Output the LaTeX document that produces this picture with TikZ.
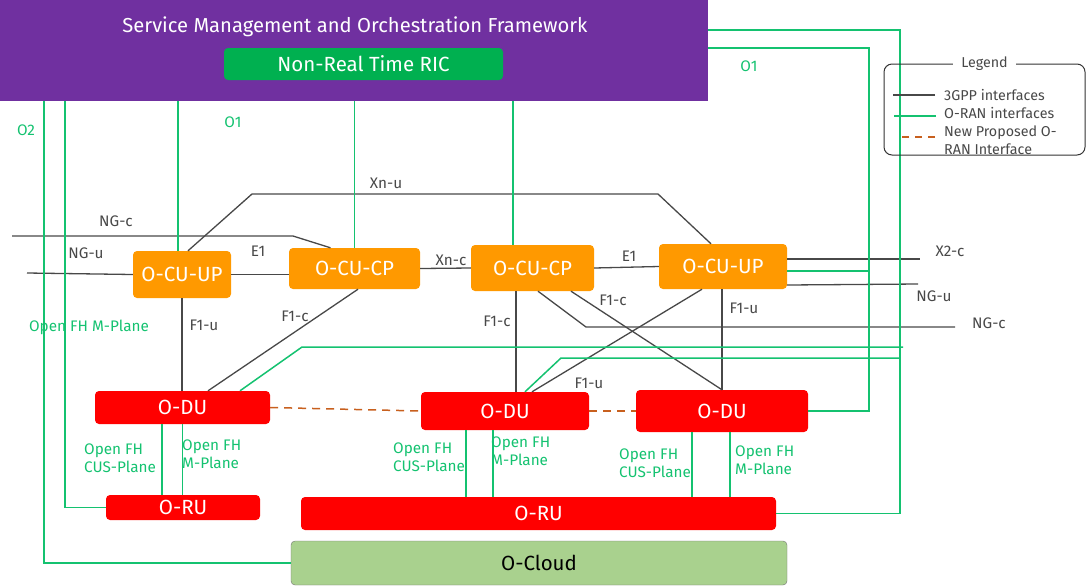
\documentclass[tikz,border=0pt]{standalone}
\usepackage{fontspec}
\setmainfont{Fira Sans}
\usetikzlibrary{shapes,arrows,positioning}
\definecolor{smopurple}{HTML}{7030A0}
\definecolor{ricgreen}{HTML}{00B050}
\definecolor{cuorange}{HTML}{FF9900}
\definecolor{dured}{HTML}{FF0000}
\definecolor{cloudgreen}{HTML}{A9D18E}
\definecolor{linegray}{HTML}{484848}
\definecolor{orangreen}{HTML}{14C270}
\definecolor{proporange}{HTML}{C8601E}

\begin{document}
\begin{tikzpicture}[x=1pt, y=-1pt,
  box/.style={rounded corners=4pt, text=white, font=\fontsize{20.5}{24}\selectfont, inner sep=0pt},
  cu/.style={box, fill=cuorange},
  du/.style={box, fill=dured},
  gpp/.style={draw=linegray, line width=1.3pt},
  oran/.style={draw=orangreen, line width=1.5pt},
  propline/.style={draw=proporange, line width=1.5pt, dash pattern=on 8pt off 6pt},
  lbl/.style={text=linegray, font=\fontsize{15.3}{18}\selectfont, inner sep=0pt},
  glbl/.style={lbl, text=orangreen, align=left},
  leg/.style={lbl, font=\fontsize{14.3}{16}\selectfont}]
  \useasboundingbox (0,0) rectangle (1086,587);

  \node[fill=smopurple, minimum width=708, minimum height=101, inner sep=0pt] (smo) at (354,50.5) {};
  \node[text=white, font=\fontsize{20.2}{24}\selectfont] (smotitle) at (355,27) {Service Management and Orchestration Framework};
  \node[box, fill=ricgreen, minimum width=279, minimum height=32] (ric) at (363.5,64) {Non-Real Time RIC};

  \node[cu, minimum width=98, minimum height=47] (cuup1) at (182,274.5) {O-CU-UP};
  \node[cu, minimum width=131, minimum height=41] (cucp1) at (354.5,268.5) {O-CU-CP};
  \node[cu, minimum width=123, minimum height=46] (cucp2) at (532.5,268) {O-CU-CP};
  \node[cu, minimum width=128, minimum height=45] (cuup2) at (723,266.5) {O-CU-UP};
  \node[du, minimum width=175, minimum height=33] (du1) at (182.5,407.5) {O-DU};
  \node[du, minimum width=168, minimum height=38] (du2) at (505,411) {O-DU};
  \node[du, minimum width=172, minimum height=42] (du3) at (722,411) {O-DU};
  \node[du, minimum width=154, minimum height=25] (ru1) at (183,507.5) {O-RU};
  \node[du, minimum width=475, minimum height=33] (ru2) at (538.5,513.5) {O-RU};
  \node[box, fill=cloudgreen, draw=black!55, text=black, minimum width=496, minimum height=44] (ocloud) at (539,563) {O-Cloud};

  \coordinate (ngcL) at (12,236);
  \coordinate (ngcB) at (293,236);
  \coordinate (nguL) at (27,273);
  \coordinate (xnu1) at (252,194);
  \coordinate (xnu2) at (658,194);
  \coordinate (x2cR) at (920,259);
  \coordinate (nguR) at (918,284);
  \coordinate (ngcB2) at (586,327);
  \coordinate (ngcR) at (955,327);
  \coordinate (o1a) at (900,30);
  \coordinate (o1b) at (869,48);
  \coordinate (o1c) at (302,347);
  \coordinate (o1cR) at (903,347);
  \coordinate (o1d) at (561,358);

  \draw[gpp] (ngcL) -- (ngcB) -- ([xshift=-24]cucp1.north);
  \draw[gpp] (nguL) -- (cuup1.west);
  \draw[gpp] (cuup1.east) -- (cuup1.east -| cucp1.west);
  \draw[gpp] (cucp1.east) -- (cucp2.west);
  \draw[gpp] (cucp2.east) -- (cuup2.west);
  \draw[gpp] ([xshift=6]cuup1.north) -- (xnu1) -- (xnu2) -- ([xshift=-12]cuup2.north);
  \draw[gpp] ([yshift=7.5]cuup2.east) -- (x2cR);
  \draw[gpp] ([yshift=-18.5]cuup2.east) -- (nguR);
  \draw[gpp] ([xshift=5.5]cucp2.south) -- (ngcB2) -- (ngcR);
  \draw[gpp] (cuup1.south) -- (cuup1.south |- du1.north);
  \draw[gpp] ([xshift=3.5]cucp1.south) -- ([xshift=25.5]du1.north);
  \draw[gpp] ([xshift=-16.5]cucp2.south) -- ([xshift=-16.5]cucp2.south |- du2.north);
  \draw[gpp] ([xshift=38.5]cucp2.south) -- (du3.north);
  \draw[gpp] ([xshift=-1]cuup2.south) -- (du3.north);
  \draw[gpp] ([xshift=-21]cuup2.south) -- ([xshift=27]du2.north);

  \draw[oran] ([xshift=44]smo.south west) -- ([xshift=44]smo.south west |- ocloud.west) -- (ocloud.west);
  \draw[oran] ([xshift=65]smo.south west) -- ([xshift=65]smo.south west |- ru1.west) -- (ru1.west);
  \draw[oran] ([xshift=-4]cuup1.north) -- ([xshift=-4]cuup1.north |- smo.south);
  \draw[oran] (cucp1.north) -- (cucp1.north |- smo.south);
  \draw[oran] ([xshift=-19.5]cucp2.north) -- ([xshift=-19.5]cucp2.north |- smo.south);
  \draw[oran] ([yshift=20.5]smo.east) -- (o1a) -- (o1a |- ru2.east) -- (ru2.east);
  \draw[oran] ([yshift=2.5]smo.east) -- (o1b) -- (o1b |- du3.east) -- (du3.east);
  \draw[oran] ([yshift=-4.5]cuup2.east) -- ([yshift=-4.5]o1b |- cuup2.east);
  \draw[oran] ([xshift=57.5]du1.north) -- (o1c) -- (o1cR);
  \draw[oran] ([xshift=20]du2.north) -- (o1d) -- (o1a |- o1d);
  \draw[oran] ([xshift=-20.5]du1.south) -- ([xshift=-20.5]du1.south |- ru1.north);
  \draw[oran] (du1.south) -- (du1.south |- ru1.north);
  \draw[oran] ([xshift=-39]du2.south) -- ([xshift=-39]du2.south |- ru2.north);
  \draw[oran] ([xshift=-12]du2.south) -- ([xshift=-12]du2.south |- ru2.north);
  \draw[oran] ([xshift=-30]du3.south) -- ([xshift=-30]du3.south |- ru2.north);
  \draw[oran] ([xshift=8]du3.south) -- ([xshift=8]du3.south |- ru2.north);

  \draw[propline] (du1.east) -- (du2.west);
  \draw[propline] (du2.east) -- (du3.west);

  \node[lbl] (lngc1) at (116,221) {NG-c};
  \node[lbl] (lngu1) at (86,253) {NG-u};
  \node[lbl] (le11) at (258,251) {E1};
  \node[lbl] (lxnu) at (386,183) {Xn-u};
  \node[lbl] (lxnc) at (451,260) {Xn-c};
  \node[lbl] (le12) at (629,256) {E1};
  \node[lbl] (lx2c) at (950,251) {X2-c};
  \node[lbl] (lngu2) at (934,296) {NG-u};
  \node[lbl] (lngc2) at (989,323) {NG-c};
  \node[lbl] (lf1u1) at (204,325) {F1-u};
  \node[lbl] (lf1c1) at (295,316) {F1-c};
  \node[lbl] (lf1c2) at (497,321) {F1-c};
  \node[lbl] (lf1c3) at (613,300) {F1-c};
  \node[lbl] (lf1u2) at (744,308) {F1-u};
  \node[lbl] (lf1u3) at (589,383) {F1-u};

  \node[glbl] (lo2) at (26,130) {O2};
  \node[glbl] (lo1a) at (233,122) {O1};
  \node[glbl] (lo1b) at (749,66) {O1};
  \node[glbl] (lmp) at (89,327) {Open FH M-Plane};
  \node[glbl, anchor=west] (lcus1) at (84,458) {Open FH\\CUS-Plane};
  \node[glbl, anchor=west] (lmp1) at (182,454) {Open FH\\M-Plane};
  \node[glbl, anchor=west] (lcus2) at (393,457) {Open FH\\CUS-Plane};
  \node[glbl, anchor=west] (lmp2) at (491,451) {Open FH\\M-Plane};
  \node[glbl, anchor=west] (lcus3) at (619,463) {Open FH\\CUS-Plane};
  \node[glbl, anchor=west] (lmp3) at (735,460) {Open FH\\M-Plane};

  \node[draw=black!80, line width=1pt, rounded corners=8pt, minimum width=201, minimum height=91] (legend) at (984.5,109.5) {};
  \node[leg, fill=white, inner xsep=8pt] (legtitle) at (legend.north) {Legend};
  \node[leg, anchor=west] (lg1) at (944,95) {3GPP interfaces};
  \node[leg, anchor=west] (lg2) at (944,113) {O-RAN interfaces};
  \node[leg, anchor=west, align=left, font=\fontsize{14.3}{18}\selectfont] (lg3) at (944,140) {New Proposed O-\\RAN Interface};
  \draw[gpp] ([xshift=-9]lg1.west) -- ++(-42,0);
  \draw[oran] ([xshift=-8]lg2.west |- 0,116) -- ++(-42,0);
  \draw[propline, dash pattern=on 7pt off 6pt] ([xshift=-9]lg3.west |- 0,137) -- ++(-33,0);
\end{tikzpicture}
\end{document}
